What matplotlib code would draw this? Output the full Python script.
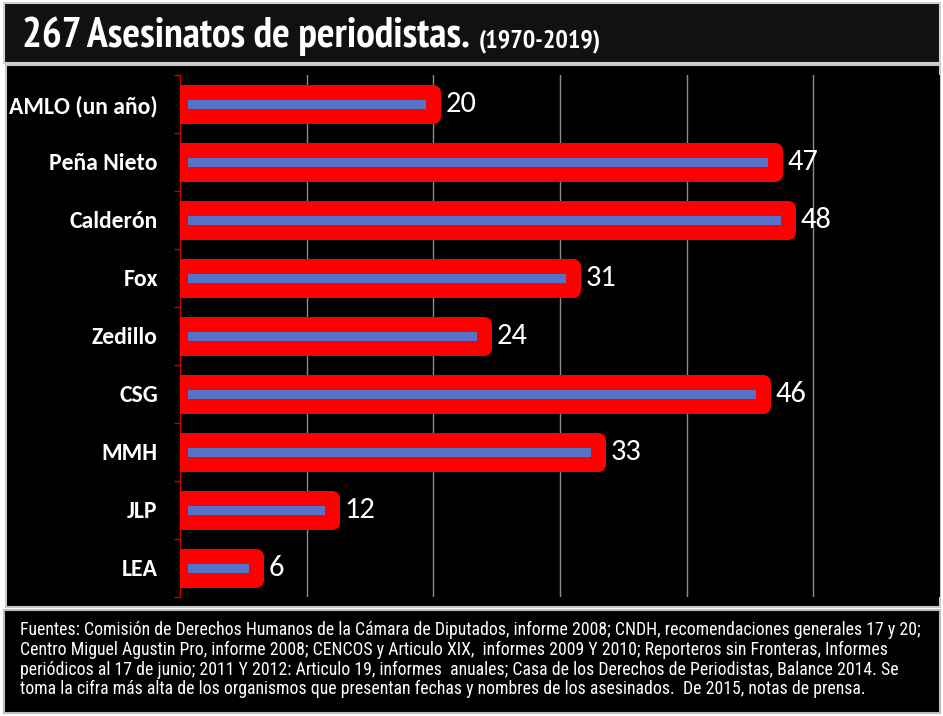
import matplotlib
matplotlib.use("Agg")
import numpy as np
import matplotlib.pyplot as plt
from matplotlib.patches import Rectangle

# data
presidentes = [
    "AMLO (un año)",
    "Peña Nieto",
    "Calderón",
    "Fox",
    "Zedillo",
    "CSG",
    "MMH",
    "JLP",
    "LEA",
]
asesinatos = [20, 47, 48, 31, 24, 46, 33, 12, 6]

titulo = "267 Asesinatos de periodistas."
periodo = "(1970-2019)"
fuentes = [
    "Fuentes: Comisión de Derechos Humanos de la Cámara de Diputados, informe 2008; CNDH, recomendaciones generales 17 y 20;",
    "Centro Miguel Agustin Pro, informe 2008; CENCOS y Articulo XIX,  informes 2009 Y 2010; Reporteros sin Fronteras, Informes",
    "periódicos al 17 de junio; 2011 Y 2012: Articulo 19, informes  anuales; Casa de los Derechos de Periodistas, Balance 2014. Se",
    "toma la cifra más alta de los organismos que presentan fechas y nombres de los asesinados.  De 2015, notas de prensa.",
]

title_font = ["PT Sans Narrow", "Roboto Condensed", "DejaVu Sans"]
note_font = ["Roboto Condensed", "DejaVu Sans"]
label_font = ["Carlito", "Lato", "DejaVu Sans"]

W, H = 943, 716
fig = plt.figure(figsize=(W / 100, H / 100), dpi=100, facecolor="white")


def box(x0, y0, x1, y1, face, edge):
    """Rectangle given in pixels from top-left"""
    fig.patches.append(
        Rectangle(
            (x0 / W, 1 - y1 / H),
            (x1 - x0) / W,
            (y1 - y0) / H,
            transform=fig.transFigure,
            facecolor=face,
            edgecolor=edge,
            linewidth=1.5,
            zorder=-10,
        )
    )


def fit_width(text, target_px):
    """Scale a text's font size so its width is target_px"""
    fig.canvas.draw()
    width = text.get_window_extent().width
    text.set_fontsize(text.get_fontsize() * target_px / width)


box(4, 3, 940, 63, "#111111", "#d0d0d0")
box(6, 65, 940, 607, "#000000", "#c8c8c8")
box(4, 610, 940, 713, "#000000", "#bdbdbd")

# chart
ax = fig.add_axes([180 / W, 1 - 597 / H, 760 / W, 522 / H])
ax.set_facecolor("black")
y = np.arange(len(presidentes))
ax.barh(
    y, asesinatos, height=0.41, color="#5673C9", edgecolor="#FF0000",
    linewidth=10.8, joinstyle="round", zorder=3,
)
for i, v in enumerate(asesinatos):
    ax.annotate(
        str(v), xy=(v, i), xytext=(9, 0), textcoords="offset points",
        va="center", ha="left", color="white", fontsize=22, family=label_font,
        zorder=4, annotation_clip=False,
    )

ax.set_xlim(0, 60)
ax.set_ylim(len(presidentes) - 0.5, -0.5)
ax.set_xticks([10, 20, 30, 40, 50])
ax.tick_params(axis="x", length=0, labelbottom=False)
ax.grid(axis="x", color="#8c8c8c", linewidth=1, zorder=1)
ax.set_axisbelow(True)

ax.set_yticks(y)
ax.set_yticklabels(presidentes, color="white", fontsize=17, fontweight="bold",
                   family=label_font)
ax.tick_params(axis="y", which="major", length=0, pad=16)
ax.set_yticks(np.arange(len(presidentes) + 1) - 0.5, minor=True)
ax.tick_params(axis="y", which="minor", length=4, width=1, color="#cc0000",
               direction="out")

for side in ["top", "right", "bottom"]:
    ax.spines[side].set_visible(False)
ax.spines["left"].set_color("#cc0000")
ax.spines["left"].set_linewidth(1)

# title
t1 = fig.text(
    22 / W, 1 - 47 / H, titulo, color="white", fontsize=22,
    fontweight="bold", family=title_font, va="baseline",
)
fit_width(t1, 447)
fig.canvas.draw()
bb = t1.get_window_extent()
t2 = fig.text(
    (bb.x1 + 9) / W, 1 - 47 / H, periodo, color="white", fontsize=18,
    fontweight="bold", family=title_font, va="baseline",
)
fit_width(t2, 122)

# fuentes
note = fig.text(
    20 / W, 1 - 621 / H, fuentes[0], color="white", fontsize=12.5,
    family=note_font, va="top", ha="left", linespacing=1.12,
)
fit_width(note, 905)
note.set_text("\n".join(fuentes))

fig.savefig("out.png", dpi=100, facecolor="white")
